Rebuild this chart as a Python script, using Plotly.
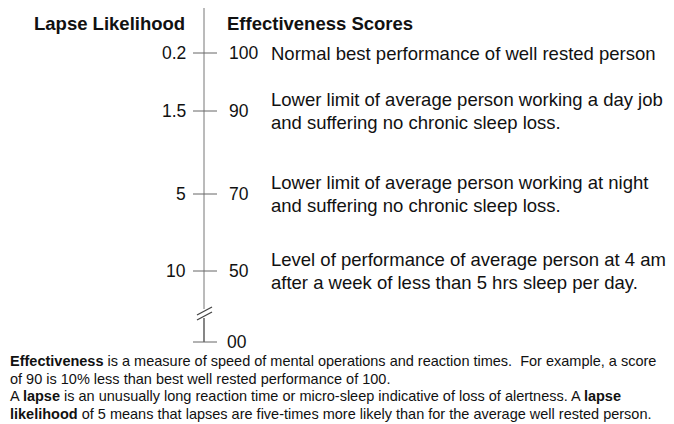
import plotly.graph_objects as go

# ---- data ----
lapse_labels = ["0.2", "1.5", "5", "10"]
effectiveness_scores = [100, 90, 70, 50]
descriptions = [
    ["Normal best performance of well rested person"],
    ["Lower limit of average person working a day job",
     "and suffering no chronic sleep loss."],
    ["Lower limit of average person working at night",
     "and suffering no chronic sleep loss."],
    ["Level of performance of average person at 4 am",
     "after a week of less than 5 hrs sleep per day."],
]
baseline_label = "00"
header_left = "Lapse Likelihood"
header_right = "Effectiveness Scores"
footnote_lines = [
    "<b>Effectiveness</b> is a measure of speed of mental operations and reaction times.  For example, a score",
    "of 90 is 10% less than best well rested performance of 100.",
    "A <b>lapse</b> is an unusually long reaction time or micro-sleep indicative of loss of alertness. A <b>lapse</b>",
    "<b>likelihood</b> of 5 means that lapses are five-times more likely than for the average well rested person.",
]

# ---- layout (pixel-like diagram coordinates; page body has an 8px margin) ----
row_y = [53, 111, 194, 271]
base_y = 342
axis_x = 204
tick_half = [193, 217]
line_gap = 23
FONT = "Liberation Sans, Arial, sans-serif"
TXT = "#111111"

fig = go.Figure()

# vertical scale line (upper, above break)
fig.add_trace(go.Scatter(x=[axis_x, axis_x], y=[8, 309], mode="lines",
                         line=dict(color="#777777", width=1), hoverinfo="skip"))
# lower segment below break
fig.add_trace(go.Scatter(x=[axis_x, axis_x], y=[318, base_y], mode="lines",
                         line=dict(color="#444444", width=1.3), hoverinfo="skip"))
# break slashes
fig.add_trace(go.Scatter(x=[197, 212, None, 197, 212],
                         y=[315, 307, None, 320, 312], mode="lines",
                         line=dict(color="#444444", width=1.3), hoverinfo="skip"))
# tick marks
tx, ty = [], []
for yv in row_y + [base_y]:
    tx += [tick_half[0], tick_half[1], None]
    ty += [yv, yv, None]
fig.add_trace(go.Scatter(x=tx, y=ty, mode="lines",
                         line=dict(color="#666666", width=1), hoverinfo="skip"))

ann = []
ann.append(dict(x=187, y=23, text=f"<b>{header_left}</b>", xanchor="right",
                font=dict(size=18.5, color=TXT)))
ann.append(dict(x=225, y=23, text=f"<b>{header_right}</b>", xanchor="left",
                font=dict(size=18.5, color=TXT)))
for yv, lab, sc, desc in zip(row_y, lapse_labels, effectiveness_scores, descriptions):
    ann.append(dict(x=188, y=yv, text=lab, xanchor="right", font=dict(size=17.5, color=TXT)))
    ann.append(dict(x=227, y=yv, text=str(sc), xanchor="left", font=dict(size=17.5, color=TXT)))
    n = len(desc)
    for k, line in enumerate(desc):
        ly = yv + (k - (n - 1) / 2) * line_gap
        ann.append(dict(x=269, y=ly, text=line, xanchor="left",
                        font=dict(size=18.5, color=TXT)))
ann.append(dict(x=225, y=base_y, text=baseline_label, xanchor="left",
                font=dict(size=17.5, color=TXT)))
for i, line in enumerate(footnote_lines):
    ann.append(dict(x=8, y=361 + i * 17.7, text=line, xanchor="left",
                    font=dict(size=14.5, color=TXT)))
for a in ann:
    a.update(xref="x", yref="y", showarrow=False, yanchor="middle")

fig.update_layout(
    width=666, height=416,
    margin=dict(l=0, r=0, t=0, b=0),
    paper_bgcolor="white", plot_bgcolor="white",
    showlegend=False,
    font=dict(family=FONT, color=TXT),
    annotations=ann,
    xaxis=dict(range=[8, 674], visible=False, fixedrange=True),
    yaxis=dict(range=[424, 8], visible=False, fixedrange=True),
)

fig.write_html("out.html")
